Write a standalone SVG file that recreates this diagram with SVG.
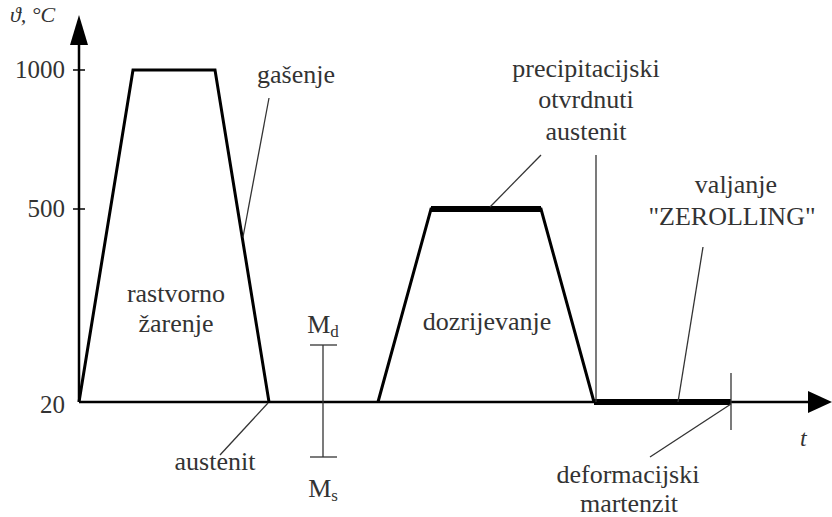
<svg xmlns="http://www.w3.org/2000/svg" width="832" height="517" viewBox="0 0 832 517">
<style>
text{font-family:'Liberation Serif','Times New Roman','DejaVu Serif',serif;font-size:26px;fill:#333;}
.c{text-anchor:middle}
.r{text-anchor:end}
.ax{stroke:#000;stroke-width:2.5;fill:none}
.cur{stroke:#000;stroke-width:3;fill:none;stroke-linejoin:miter}
.thick{stroke:#000;stroke-width:6;fill:none}
.lead{stroke:#333;stroke-width:1.3;fill:none}
</style>
<rect width="832" height="517" fill="#fff"/>
<g id="axes" font-family="Liberation Serif, serif">
<line class="ax" x1="79" y1="402" x2="79" y2="40"/>
<polygon points="79,15 70,45 88,45" fill="#000"/>
<line class="ax" x1="79" y1="402" x2="812" y2="402"/>
<polygon points="832,402 808,391 808,413" fill="#000"/>
<line class="ax" x1="73" y1="70" x2="85" y2="70" style="stroke-width:1.5"/>
<line class="ax" x1="73" y1="209" x2="85" y2="209" style="stroke-width:1.5"/>
<text x="10" y="22" style="font-style:italic;font-size:22px">ϑ, °C</text>
<text class="r" x="65" y="78" style="font-size:25px">1000</text>
<text class="r" x="65" y="217" style="font-size:25px">500</text>
<text class="r" x="65" y="413" style="font-size:25px">20</text>
<text x="800" y="446" style="font-style:italic;font-size:24px">t</text>
</g>
<g id="rastvorno">
<polyline class="cur" points="79,402 133,70 215,70 269,402"/>
<text class="c" x="176" y="302">rastvorno</text>
<text class="c" x="176" y="332">žarenje</text>
</g>
<g id="gasenje"><text class="c" x="296" y="83">gašenje</text></g>
<g id="austenit1"><text class="c" x="215" y="470">austenit</text></g>
<g id="MdMs">
<line class="lead" x1="323" y1="345" x2="323" y2="457"/>
<line class="lead" x1="310" y1="345" x2="337" y2="345"/>
<line class="lead" x1="310" y1="457" x2="337" y2="457"/>
<text class="c" x="323" y="333">M<tspan font-size="17" dy="4">d</tspan></text>
<text class="c" x="323" y="497">M<tspan font-size="17" dy="4">s</tspan></text>
</g>
<g id="dozrijevanje">
<polyline class="cur" points="378,402 431,209 541,209 594,402"/>
<line class="thick" x1="431" y1="209" x2="541" y2="209"/>
<text class="c" x="487" y="330">dozrijevanje</text>
</g>
<g id="precip">
<text class="c" x="586" y="77">precipitacijski</text>
<text class="c" x="586" y="108">otvrdnuti</text>
<text class="c" x="586" y="140">austenit</text>
</g>
<g id="zerolling">
<line class="thick" x1="594" y1="402" x2="731" y2="402"/>
<line class="lead" x1="731" y1="373" x2="731" y2="430"/>
<text class="c" x="736" y="193">valjanje</text>
<text class="c" x="732" y="225">"ZEROLLING"</text>
</g>
<g id="deform">
<text class="c" x="628" y="483">deformacijski</text>
<text class="c" x="629" y="512">martenzit</text>
</g>
<g id="connectors">
<line class="lead" x1="269" y1="98" x2="243" y2="237"/>
<line class="lead" x1="268" y1="403" x2="220" y2="455"/>
<line class="lead" x1="541" y1="155" x2="490" y2="207"/>
<line class="lead" x1="596" y1="155" x2="596" y2="402"/>
<line class="lead" x1="703" y1="247" x2="678" y2="402"/>
<line class="lead" x1="731" y1="404" x2="650" y2="457"/>
</g>
</svg>
